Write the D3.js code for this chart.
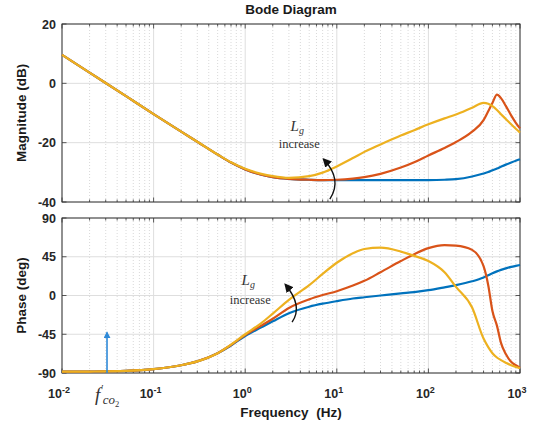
<!DOCTYPE html>
<html>
<head>
<meta charset="utf-8">
<script src="https://cdn.jsdelivr.net/npm/d3@7"></script>
<style>
  body { margin: 0; background: #fff; }
  svg { display: block; }
  .tick-label { font-family: Arial, "Liberation Sans", sans-serif; font-weight: bold; font-size: 12.5px; fill: #262626; }
  .axis-title { font-family: Arial, "Liberation Sans", sans-serif; font-weight: bold; font-size: 13.5px; fill: #1a1a1a; }
  .note { font-family: "Liberation Serif", "DejaVu Serif", serif; fill: #333; }
</style>
</head>
<body>
<div id="graph"></div>
<script>
var freqs = [0.01, 0.02, 0.05, 0.1, 0.2, 0.3, 0.5, 0.7, 1, 1.5, 2, 3, 5, 7, 10, 15, 20, 30, 50, 70,
  100, 150, 200, 300, 400, 450, 500, 560, 620, 700, 800, 900, 1000];

// magnitude (dB)
var magBlue = [9.6, 3.6, -4.3, -10.4, -16.3, -19.7, -24, -26.7, -29, -30.8, -31.6, -32.2, -32.5, -32.6, -32.6, -32.6, -32.6, -32.6, -32.6, -32.6,
  -32.6, -32.5, -32.3, -31.4, -30.4, -29.9, -29.3, -28.7, -28.1, -27.4, -26.7, -26.1, -25.6];
var magOrange = [9.6, 3.6, -4.3, -10.4, -16.3, -19.7, -24, -26.7, -29, -30.8, -31.6, -32.2, -32.5, -32.6, -32.5, -32.1, -31.6, -30.5, -28.4, -26.6,
  -24.3, -21.8, -19.8, -16.3, -12.4, -9.4, -6.6, -3.8, -5, -7.6, -10.8, -13.3, -15.2];
var magYellow = [9.6, 3.6, -4.3, -10.4, -16.3, -19.7, -24, -26.6, -28.8, -30.5, -31.3, -31.9, -31.3, -30.1, -28, -25.2, -23.1, -20.6, -17.6, -15.8,
  -13.8, -11.8, -10.5, -8.2, -6.6, -6.9, -7.7, -9, -10.4, -12, -13.8, -15.3, -16.6];

// phase (deg)
var phBlue = [-88.5, -88.3, -87.5, -85.5, -81, -76.5, -67, -58, -47, -37, -30, -20.5, -13, -9.5, -6.5, -3.5, -2, 0, 2.5, 4,
  6.2, 9.5, 12, 16.5, 21, 23.5, 25.8, 28, 29.8, 31.5, 33.2, 34.4, 35.4];
var phOrange = [-88.5, -88.3, -87.5, -85.5, -81, -76.5, -67, -57.5, -46, -35, -27, -14.5, -4.5, 0.5, 5, 11.5, 17, 27, 40, 48,
  55, 58.5, 58, 53, 34, 12, -18, -35, -55, -68, -77, -81, -84];
var phYellow = [-88.5, -88.3, -87.5, -85.5, -81, -76.5, -67, -57, -45, -32, -21, -5, 12, 25, 38, 49, 54, 55.5, 51, 46,
  40, 27, 10, -14, -50, -60, -67, -72, -75, -78, -81, -83, -84.5];

var seriesColors = ["#0072BD", "#D95319", "#EDB120"];
var magTicks = [20, 0, -20, -40];
var phTicks = [90, 45, 0, -45, -90];
var decades = [-2, -1, 0, 1, 2, 3];

var width = 544, height = 424;
var left = 62, right = 520;

var svg = d3.select("#graph").append("svg")
  .attr("width", width)
  .attr("height", height);

var x = d3.scaleLog().domain([0.01, 1000]).range([left, right]);
var yMag = d3.scaleLinear().domain([-40, 20]).range([202, 24]);
var yPh = d3.scaleLinear().domain([-90, 90]).range([373, 218]);

// minor frequency positions
var minors = [];
decades.slice(0, -1).forEach(function(d) {
  for (var k = 2; k <= 9; k++) minors.push(k * Math.pow(10, d));
});
var majors = decades.map(function(d) { return Math.pow(10, d); });

var drawPanel = function(y, ticks, magSeries) {
  var g = svg.append("g");
  var top = y.range()[1], bottom = y.range()[0];

  g.selectAll(".minor").data(minors).enter().append("line")
    .attr("x1", function(d) { return x(d); })
    .attr("x2", function(d) { return x(d); })
    .attr("y1", top).attr("y2", bottom)
    .attr("stroke", "#cfcfcf")
    .attr("stroke-width", 0.8)
    .attr("stroke-dasharray", "1,2");

  g.selectAll(".vmajor").data(majors).enter().append("line")
    .attr("x1", function(d) { return x(d); })
    .attr("x2", function(d) { return x(d); })
    .attr("y1", top).attr("y2", bottom)
    .attr("stroke", "#dedede")
    .attr("stroke-width", 1);

  g.selectAll(".hmajor").data(ticks).enter().append("line")
    .attr("x1", left).attr("x2", right)
    .attr("y1", function(d) { return y(d); })
    .attr("y2", function(d) { return y(d); })
    .attr("stroke", "#dedede")
    .attr("stroke-width", 1);

  // inward ticks
  [top, bottom].forEach(function(edge) {
    var dir = edge === top ? 1 : -1;
    g.selectAll(null).data(minors).enter().append("line")
      .attr("x1", function(d) { return x(d); })
      .attr("x2", function(d) { return x(d); })
      .attr("y1", edge).attr("y2", edge + dir * 2.5)
      .attr("stroke", "#333").attr("stroke-width", 0.8);
    g.selectAll(null).data(majors).enter().append("line")
      .attr("x1", function(d) { return x(d); })
      .attr("x2", function(d) { return x(d); })
      .attr("y1", edge).attr("y2", edge + dir * 4.5)
      .attr("stroke", "#333").attr("stroke-width", 0.8);
  });
  [left, right].forEach(function(edge) {
    var dir = edge === left ? 1 : -1;
    g.selectAll(null).data(ticks).enter().append("line")
      .attr("x1", edge).attr("x2", edge + dir * 4.5)
      .attr("y1", function(d) { return y(d); })
      .attr("y2", function(d) { return y(d); })
      .attr("stroke", "#333").attr("stroke-width", 0.8);
  });

  g.append("rect")
    .attr("x", left).attr("y", top)
    .attr("width", right - left).attr("height", bottom - top)
    .attr("fill", "none")
    .attr("stroke", "#333")
    .attr("stroke-width", 1);

  g.selectAll(".ylab").data(ticks).enter().append("text")
    .attr("class", "tick-label")
    .attr("x", left - 6)
    .attr("y", function(d) { return y(d) + 4.5; })
    .attr("text-anchor", "end")
    .text(function(d) { return d; });

  var line = d3.line()
    .x(function(d, i) { return x(freqs[i]); })
    .y(function(d) { return y(d); })
    .curve(d3.curveMonotoneX);

  g.selectAll(".curve").data(magSeries).enter().append("path")
    .attr("d", function(d) { return line(d); })
    .attr("fill", "none")
    .attr("stroke", function(d, i) { return seriesColors[i]; })
    .attr("stroke-width", 2.2)
    .attr("stroke-linejoin", "round");

  return g;
};

var gMag = drawPanel(yMag, magTicks, [magBlue, magOrange, magYellow]);
var gPh = drawPanel(yPh, phTicks, [phBlue, phOrange, phYellow]);

// x tick labels (10^n)
var xl = svg.selectAll(".xlab").data(decades).enter().append("text")
  .attr("class", "tick-label")
  .attr("x", function(d) { return x(Math.pow(10, d)) - 3; })
  .attr("y", 398)
  .attr("text-anchor", "middle");
xl.append("tspan").text("10");
xl.append("tspan")
  .attr("dy", -5)
  .attr("font-size", "9px")
  .text(function(d) { return d === 0 ? "0" : (d < 0 ? "-" + (-d) : d); });

// titles
svg.append("text").attr("class", "axis-title")
  .attr("x", 291).attr("y", 14).attr("text-anchor", "middle")
  .text("Bode Diagram");
svg.append("text").attr("class", "axis-title")
  .attr("x", 291).attr("y", 417).attr("text-anchor", "middle")
  .attr("xml:space", "preserve")
  .text("Frequency  (Hz)");
svg.append("text").attr("class", "axis-title")
  .attr("transform", "translate(26," + yMag(-10) + ") rotate(-90)")
  .attr("text-anchor", "middle")
  .text("Magnitude (dB)");
svg.append("text").attr("class", "axis-title")
  .attr("transform", "translate(26," + yPh(0) + ") rotate(-90)")
  .attr("text-anchor", "middle")
  .text("Phase (deg)");

// arrow markers
var defs = svg.append("defs");
defs.append("marker")
  .attr("id", "headBlack")
  .attr("viewBox", "0 0 10 10")
  .attr("refX", 8).attr("refY", 5)
  .attr("markerWidth", 9).attr("markerHeight", 9)
  .attr("markerUnits", "userSpaceOnUse")
  .attr("orient", "auto")
  .append("path").attr("d", "M0,0 L10,5 L0,10 Z").attr("fill", "#111");
defs.append("marker")
  .attr("id", "headBlue")
  .attr("viewBox", "0 0 10 10")
  .attr("refX", 8).attr("refY", 5)
  .attr("markerWidth", 7).attr("markerHeight", 7)
  .attr("markerUnits", "userSpaceOnUse")
  .attr("orient", "auto")
  .append("path").attr("d", "M0,0 L10,5 L0,10 Z").attr("fill", "#2f8ad8");

// Lg increase annotations
var note = function(g, y, fText, vL, vInc, arrow) {
  var tx = x(fText);
  var t = g.append("text").attr("class", "note")
    .attr("x", tx).attr("y", y(vL)).attr("text-anchor", "middle");
  t.append("tspan").attr("font-style", "italic").attr("font-size", "15px").text("L");
  t.append("tspan").attr("font-style", "italic").attr("font-size", "10px").attr("dy", 3).text("g");
  g.append("text").attr("class", "note")
    .attr("x", tx + 2).attr("y", y(vInc))
    .attr("text-anchor", "middle")
    .attr("font-size", "12.5px")
    .text("increase");
  var p = arrow.map(function(a) { return [x(a[0]), y(a[1])]; });
  g.append("path")
    .attr("d", "M" + p[0] + " Q" + p[1] + " " + p[2])
    .attr("fill", "none")
    .attr("stroke", "#111")
    .attr("stroke-width", 1.4)
    .attr("marker-end", "url(#headBlack)");
};

note(gMag, yMag, 3.7, -16, -21.8, [[8.4, -39], [11.6, -32.5], [7.2, -25.6]]);
note(gPh, yPh, 1.08, 12, -10, [[3.25, -31], [4.3, -12], [2.75, 12.5]]);

// f'co2 arrow and label
var fco = 0.031;
svg.append("line")
  .attr("x1", x(fco)).attr("x2", x(fco))
  .attr("y1", yPh(-90)).attr("y2", yPh(-43))
  .attr("stroke", "#2f8ad8")
  .attr("stroke-width", 1.6)
  .attr("marker-end", "url(#headBlue)");

var fl = svg.append("text").attr("class", "note")
  .attr("x", x(fco) - 12).attr("y", 401);
fl.append("tspan").attr("font-style", "italic").attr("font-size", "19px").text("f");
fl.append("tspan").attr("font-size", "11px").attr("dy", -9).attr("dx", 1).text("\u2032");
fl.append("tspan").attr("font-style", "italic").attr("font-size", "13px").attr("dy", 12).attr("dx", -1).text("co");
fl.append("tspan").attr("font-size", "8.5px").attr("dy", 3).text("2");
</script>
</body>
</html>
